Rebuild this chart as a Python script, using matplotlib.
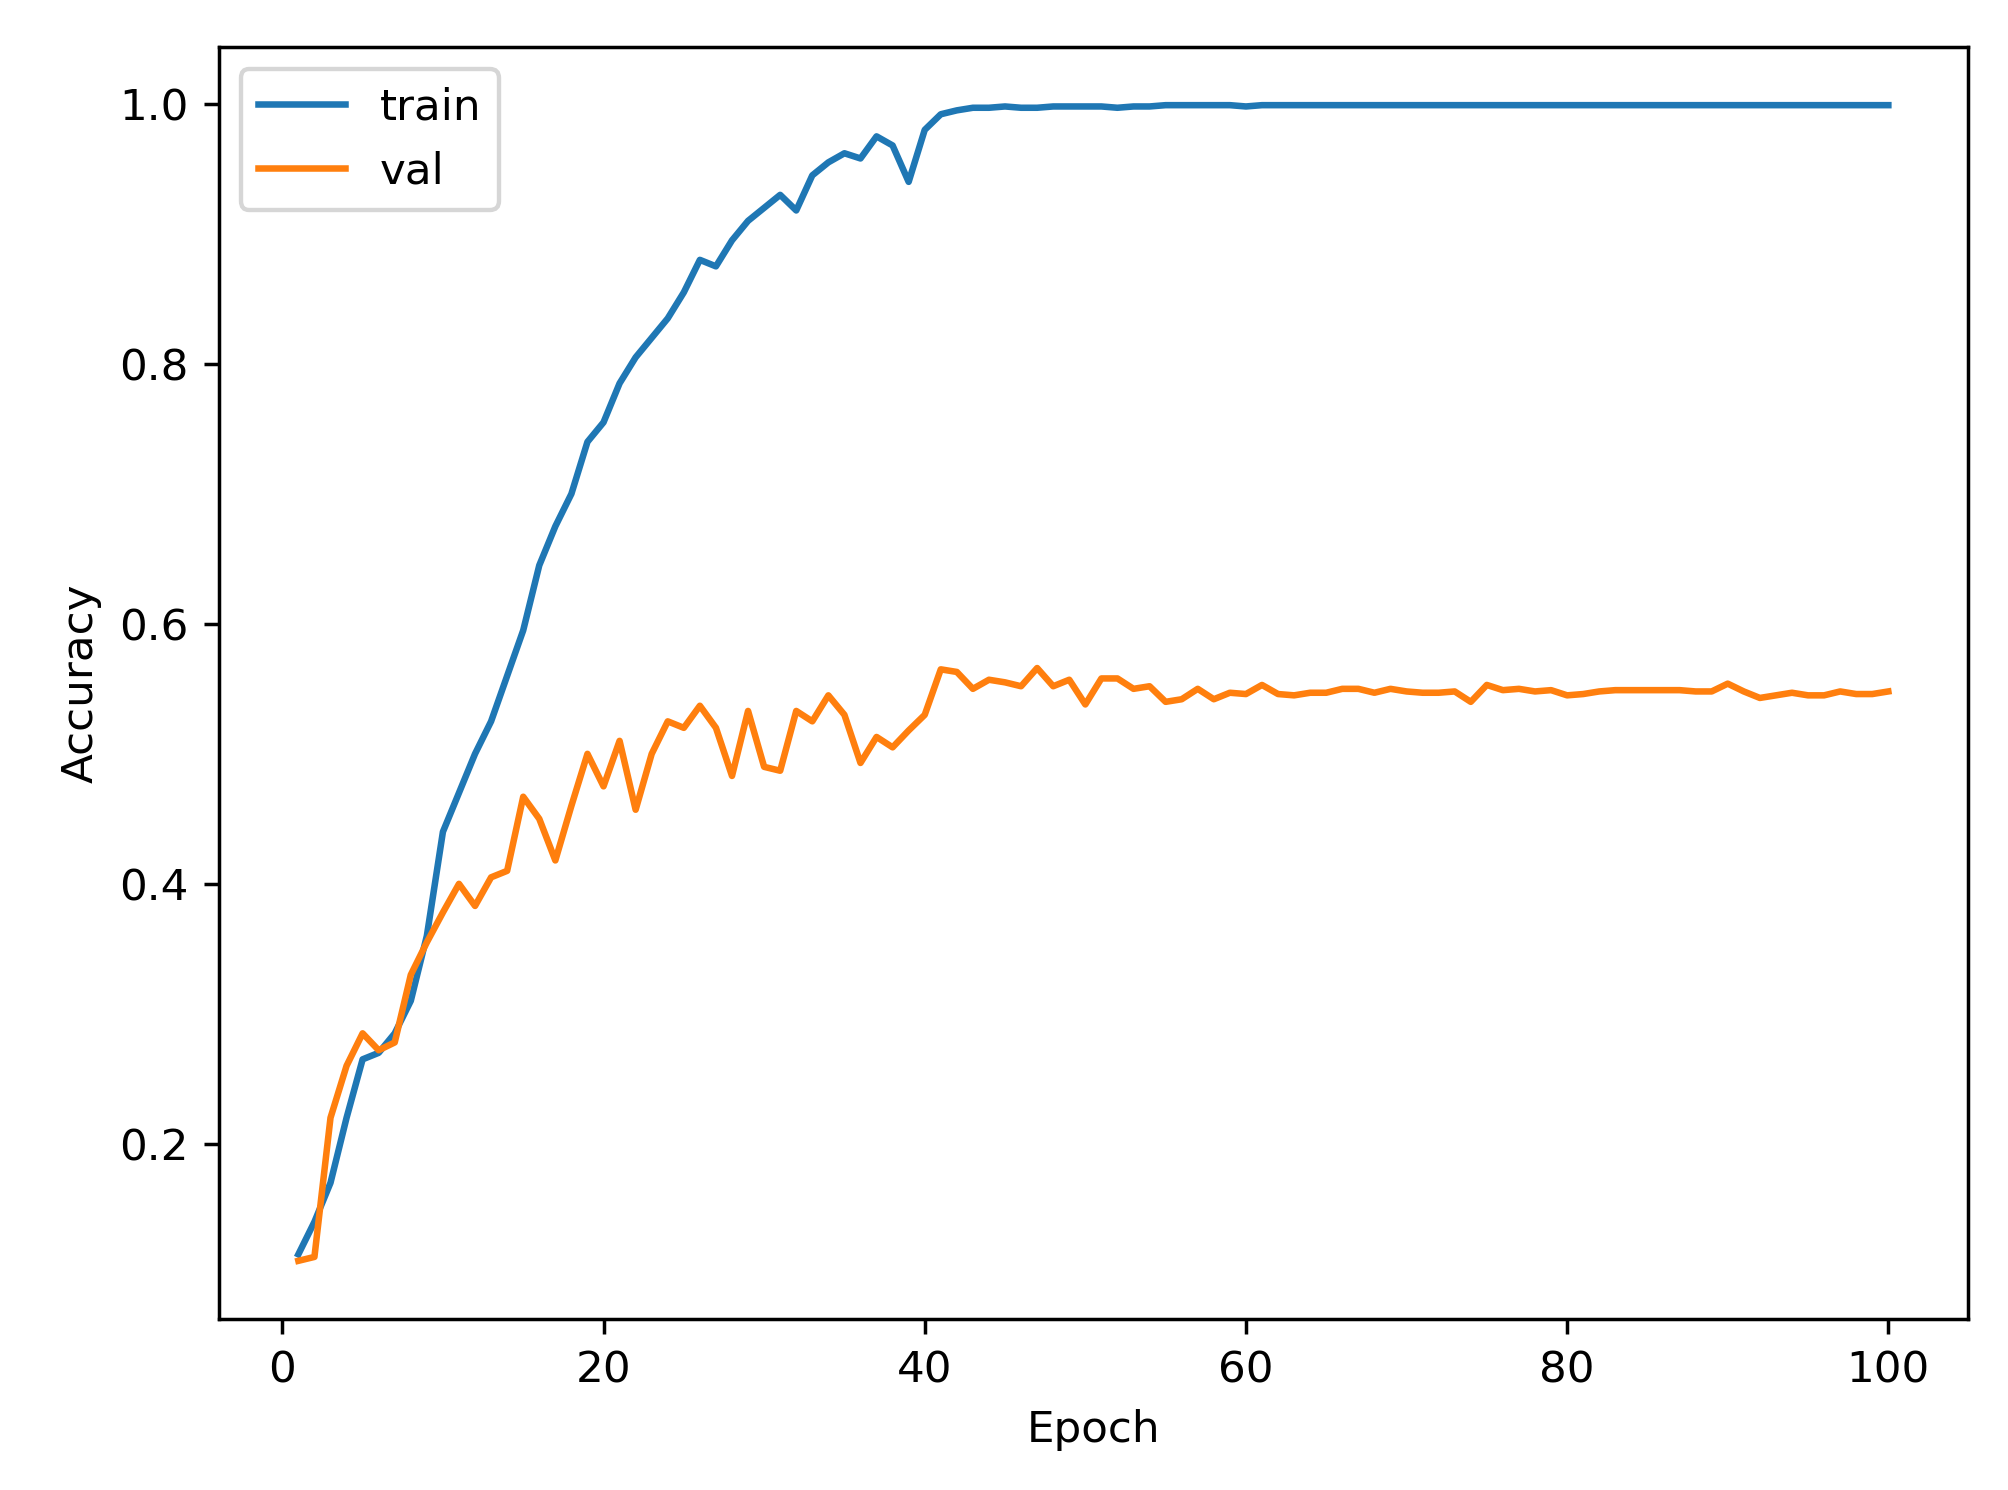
import matplotlib
matplotlib.use("Agg")
import matplotlib.pyplot as plt

epochs = list(range(1, 101))
train = [0.115,0.14,0.17,0.22,0.265,0.27,0.285,0.31,0.36,0.44,
         0.47,0.50,0.525,0.56,0.595,0.645,0.675,0.70,0.74,0.755,
         0.785,0.805,0.82,0.835,0.855,0.88,0.875,0.895,0.91,0.92,
         0.93,0.918,0.945,0.955,0.962,0.958,0.975,0.968,0.94,0.98,
         0.992,0.995,0.997,0.997,0.998,0.997,0.997,0.998,0.998,0.998,
         0.998,0.997,0.998,0.998,0.999,0.999,0.999,0.999,0.999,0.998,
         0.999,0.999,0.999,0.999,0.999,0.999,0.999,0.999,0.999,0.999,
         0.999,0.999,0.999,0.999,0.999,0.999,0.999,0.999,0.999,0.999,
         0.999,0.999,0.999,0.999,0.999,0.999,0.999,0.999,0.999,0.999,
         0.999,0.999,0.999,0.999,0.999,0.999,0.999,0.999,0.999,0.999]
val = [0.11,0.113,0.22,0.26,0.285,0.272,0.278,0.33,0.355,0.378,
       0.40,0.383,0.405,0.41,0.467,0.45,0.418,0.46,0.50,0.475,
       0.51,0.457,0.50,0.525,0.52,0.537,0.52,0.483,0.533,0.49,
       0.487,0.533,0.525,0.545,0.53,0.493,0.513,0.505,0.518,0.53,
       0.565,0.563,0.55,0.557,0.555,0.552,0.566,0.552,0.557,0.538,
       0.558,0.558,0.55,0.552,0.54,0.542,0.55,0.542,0.547,0.546,
       0.553,0.546,0.545,0.547,0.547,0.55,0.55,0.547,0.55,0.548,
       0.547,0.547,0.548,0.54,0.553,0.549,0.55,0.548,0.549,0.545,
       0.546,0.548,0.549,0.549,0.549,0.549,0.549,0.548,0.548,0.554,
       0.548,0.543,0.545,0.547,0.545,0.545,0.548,0.546,0.546,0.548]

fig = plt.figure(figsize=(6.4, 4.75), dpi=313.75)
ax = fig.add_axes([0.109, 0.115, 0.871, 0.853])
ax.plot(epochs, train, label="train")
ax.plot(epochs, val, label="val")
ax.set_xlabel("Epoch")
ax.set_ylabel("Accuracy")
ax.legend(loc="upper left")
fig.savefig("out.png")
